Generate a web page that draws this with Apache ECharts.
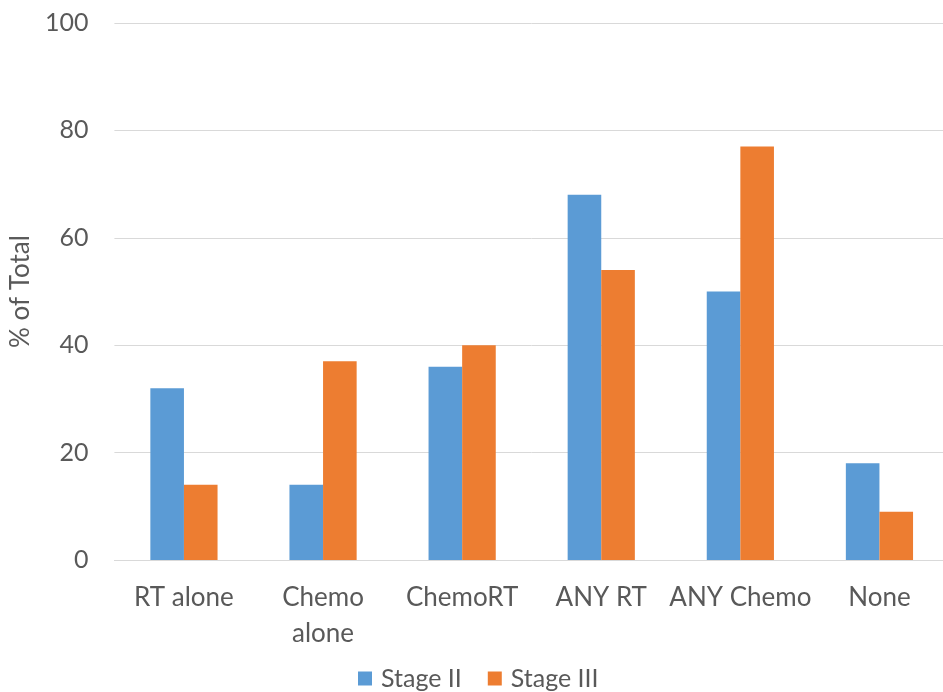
<!DOCTYPE html>
<html><head><meta charset="utf-8">
<script src="https://cdn.jsdelivr.net/npm/echarts@6/dist/echarts.min.js"></script>
<style>html,body{margin:0;padding:0;background:#fff;overflow:hidden}#c{width:949px;height:692px}</style>
</head><body><div id="c"></div>
<script>
const categories = ['RT alone', 'Chemo\nalone', 'ChemoRT', 'ANY RT', 'ANY Chemo', 'None'];
const stageII = [32, 14, 36, 68, 50, 18];
const stageIII = [14, 37, 40, 54, 77, 9];
const seriesNames = ['Stage II', 'Stage III'];
const yTicks = {min: 0, max: 100, interval: 20};

const FONT = 'Lato';
const TXT = '#595959';
const chart = echarts.init(document.getElementById('c'));
chart.setOption({
  animation: false,
  textStyle: {fontFamily: FONT},
  grid: {left: 113, top: 23, right: 0, bottom: 132, containLabel: false},
  legend: {
    top: 661, left: 353, itemWidth: 14, itemHeight: 14, itemGap: 26,
    icon: 'rect',
    textStyle: {fontFamily: FONT, fontSize: 25, color: TXT, padding: [0, 0, 0, 4]},
    data: seriesNames
  },
  xAxis: {
    type: 'category', data: categories,
    axisLine: {lineStyle: {color: '#d9d9d9', width: 1}},
    axisTick: {show: false},
    axisLabel: {fontFamily: FONT, fontSize: 26, color: TXT, margin: 20, lineHeight: 36, interval: 0}
  },
  yAxis: {
    type: 'value', min: yTicks.min, max: yTicks.max, interval: yTicks.interval,
    name: '% of Total', nameLocation: 'middle', nameGap: 77, nameRotate: 90,
    nameTextStyle: {fontFamily: FONT, fontSize: 26, color: TXT},
    axisLine: {show: false}, axisTick: {show: false},
    axisLabel: {fontFamily: FONT, fontSize: 25, color: TXT, margin: 26},
    splitLine: {lineStyle: {color: '#d9d9d9', width: 1}}
  },
  series: [
    {name: seriesNames[0], type: 'bar', data: stageII, barWidth: 33.6, barGap: '0%',
     itemStyle: {color: '#5B9BD5'}},
    {name: seriesNames[1], type: 'bar', data: stageIII, barWidth: 33.6, barGap: '0%',
     itemStyle: {color: '#ED7D31'}}
  ]
});
</script></body></html>
